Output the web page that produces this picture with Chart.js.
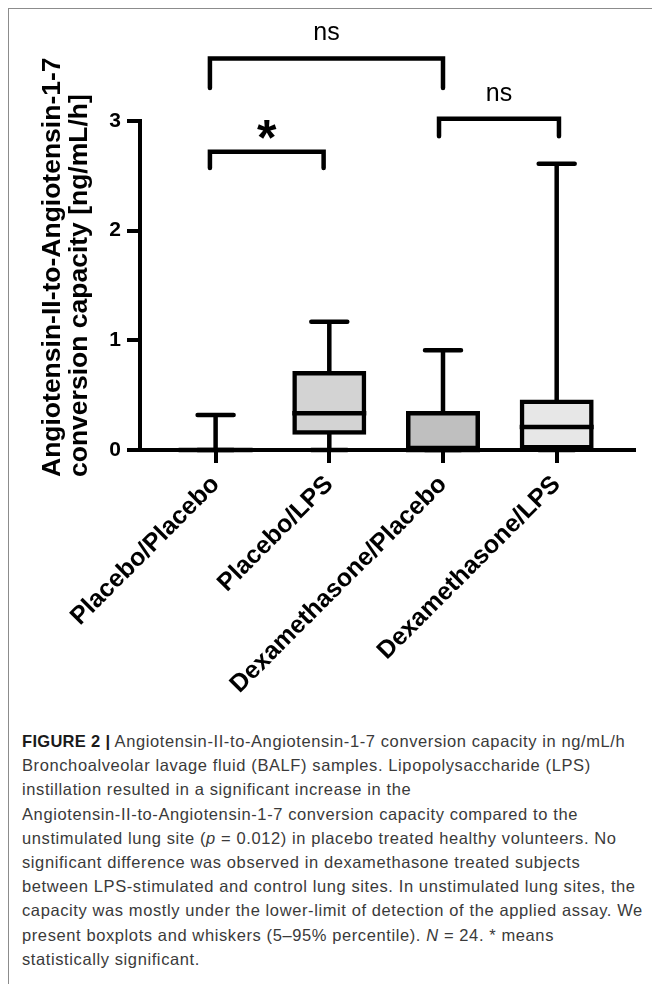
<!DOCTYPE html>
<html>
<head>
<meta charset="utf-8">
<script src="https://cdn.jsdelivr.net/npm/chart.js@4.4.1/dist/chart.umd.min.js"></script>
<style>
  html, body { margin: 0; padding: 0; background: #fff; width: 652px; height: 984px; overflow: hidden; }
  #frame { position: absolute; left: 8px; top: 8px; width: 700px; height: 1000px;
           border-left: 1.5px solid #8c8c8c; border-top: 1.5px solid #8c8c8c; }
  #chart { position: absolute; left: 0; top: 0; }
  #caption { position: absolute; left: 22px; top: 729px; font-family: "Liberation Sans", Arial, sans-serif;
             font-size: 16.5px; letter-spacing: 0.6px; line-height: 24.2px; color: #3a3a3a; white-space: nowrap; }
  #caption b { color: #1a1a1a; letter-spacing: 0.3px; }
</style>
</head>
<body>
<div id="frame"></div>
<canvas id="chart" width="652" height="700"></canvas>
<div id="caption">
<b>FIGURE 2 |</b> Angiotensin-II-to-Angiotensin-1-7 conversion capacity in ng/mL/h<br>
Bronchoalveolar lavage fluid (BALF) samples. Lipopolysaccharide (LPS)<br>
instillation resulted in a significant increase in the<br>
Angiotensin-II-to-Angiotensin-1-7 conversion capacity compared to the<br>
unstimulated lung site (<i>p</i> = 0.012) in placebo treated healthy volunteers. No<br>
significant difference was observed in dexamethasone treated subjects<br>
between LPS-stimulated and control lung sites. In unstimulated lung sites, the<br>
capacity was mostly under the lower-limit of detection of the applied assay. We<br>
present boxplots and whiskers (5–95% percentile). <i>N</i> = 24. * means<br>
statistically significant.
</div>
<script>
// groups and box values (ng/mL/h)
const categories = ['Placebo/Placebo', 'Placebo/LPS', 'Dexamethasone/Placebo', 'Dexamethasone/LPS'];
const whiskerLow = [0, 0, 0, 0];
const q1 = [0, 0.16, 0, 0.025];
const median = [0, 0.335, 0, 0.21];
const q3 = [0, 0.70, 0.335, 0.44];
const whiskerHigh = [0.32, 1.17, 0.91, 2.61];
const boxColors = ['#ffffff', '#d3d3d3', '#bfbfbf', '#e7e7e7'];

const yTicks = [0, 1, 2, 3];
const yTitle = ['Angiotensin-II-to-Angiotensin-1-7', 'conversion capacity [ng/mL/h]'];

// significance brackets: from/to positions on the group axis, bar height, leg ends
const sigFrom = [-0.05, -0.05, 1.965];
const sigTo = [2.0, 0.95, 3.02];
const sigBarY = [3.57, 2.72, 3.02];
const sigLegY = [3.30, 2.57, 2.86];
const sigLabels = ['ns', '*', 'ns'];

const FONT = '"Liberation Sans", Arial, sans-serif';
const BW = 4.5;

const extras = {
  id: 'boxExtras',
  afterDatasetsDraw(chart) {
    const { ctx, chartArea, scales: { x, y } } = chart;
    const bars = chart.getDatasetMeta(0).data;
    ctx.save();
    ctx.strokeStyle = '#000';
    ctx.fillStyle = '#000';

    // y axis line only up to the last tick
    ctx.lineWidth = 4;
    ctx.lineCap = 'butt';
    ctx.beginPath();
    ctx.moveTo(chartArea.left, y.getPixelForValue(0) + 2);
    ctx.lineTo(chartArea.left, y.getPixelForValue(yTicks[yTicks.length - 1]) - 2);
    ctx.stroke();

    // whiskers, caps, medians
    ctx.lineWidth = BW;
    categories.forEach((c, i) => {
      const cx = x.getPixelForValue(i);
      ctx.lineCap = 'butt';
      ctx.beginPath();
      ctx.moveTo(cx, y.getPixelForValue(q3[i]));
      ctx.lineTo(cx, y.getPixelForValue(whiskerHigh[i]));
      ctx.moveTo(cx, y.getPixelForValue(q1[i]));
      ctx.lineTo(cx, y.getPixelForValue(whiskerLow[i]));
      ctx.stroke();

      ctx.lineCap = 'round';
      ctx.beginPath();
      [whiskerHigh[i], whiskerLow[i]].forEach(v => {
        const py = y.getPixelForValue(v);
        ctx.moveTo(cx - 18, py);
        ctx.lineTo(cx + 18, py);
      });
      ctx.stroke();

      const half = bars[i].width / 2;
      const my = y.getPixelForValue(median[i]);
      ctx.lineCap = 'square';
      ctx.beginPath();
      ctx.moveTo(cx - half, my);
      ctx.lineTo(cx + half, my);
      ctx.stroke();
    });

    // significance brackets
    ctx.lineCap = 'round';
    ctx.lineJoin = 'miter';
    sigLabels.forEach((lab, i) => {
      const xl = x.getPixelForValue(sigFrom[i]);
      const xr = x.getPixelForValue(sigTo[i]);
      const yb = y.getPixelForValue(sigBarY[i]);
      const yl = y.getPixelForValue(sigLegY[i]);
      ctx.beginPath();
      ctx.moveTo(xl, yl);
      ctx.lineTo(xl, yb);
      ctx.lineTo(xr, yb);
      ctx.lineTo(xr, yl);
      ctx.stroke();

      const star = lab === '*';
      ctx.font = (star ? 'bold 50px ' : '25px ') + FONT;
      ctx.textAlign = 'center';
      ctx.textBaseline = 'alphabetic';
      const m = ctx.measureText(lab);
      const centre = yb - (star ? 22 : 25);
      ctx.fillText(lab, (xl + xr) / 2, centre + (m.actualBoundingBoxAscent - m.actualBoundingBoxDescent) / 2);
    });

    // y axis title, two lines starting below the axis
    ctx.font = 'bold 26.5px ' + FONT;
    ctx.textAlign = 'left';
    ctx.textBaseline = 'middle';
    yTitle.forEach((line, i) => {
      ctx.save();
      ctx.translate(chartArea.left - 87 + i * 26.6, chartArea.bottom + 27);
      ctx.rotate(-Math.PI / 2);
      ctx.fillText(line, 0, 0);
      ctx.restore();
    });
    ctx.restore();
  }
};

new Chart(document.getElementById('chart'), {
  type: 'bar',
  data: {
    datasets: [{
      data: categories.map((c, i) => ({ x: i, y: [q1[i], q3[i]] })),
      backgroundColor: boxColors,
      borderColor: '#000',
      borderWidth: BW,
      borderSkipped: false,
      inflateAmount: BW / 2,
      barThickness: 69.5,
      clip: false
    }]
  },
  options: {
    responsive: false,
    animation: false,
    devicePixelRatio: 1,
    layout: { padding: { left: 0, right: 18, top: 20, bottom: 0 } },
    plugins: { legend: { display: false }, tooltip: { enabled: false } },
    scales: {
      x: {
        type: 'linear',
        offset: false,
        min: -0.665,
        max: 3.68,
        afterBuildTicks: s => { s.ticks = categories.map((c, i) => ({ value: i })); },
        afterFit: s => { s.height = 250; },
        border: { display: true, color: '#000', width: 4 },
        grid: { offset: false, drawOnChartArea: false, drawTicks: true, tickLength: 13, lineWidth: 4, color: '#000' },
        ticks: {
          autoSkip: false, minRotation: 45, maxRotation: 45, padding: 7, color: '#000',
          font: { family: FONT, size: 25, weight: 'bold' },
          callback: v => categories[v]
        }
      },
      y: {
        min: 0,
        max: 3.92,
        afterBuildTicks: s => { s.ticks = yTicks.map(v => ({ value: v })); },
        afterFit: s => { s.width = 140; },
        border: { display: false },
        grid: { drawOnChartArea: false, drawTicks: true, tickLength: 13, lineWidth: 4, color: '#000' },
        ticks: { padding: 6, color: '#000', font: { family: FONT, size: 21, weight: 'bold' } }
      }
    }
  },
  plugins: [extras]
});
</script>
</body>
</html>
